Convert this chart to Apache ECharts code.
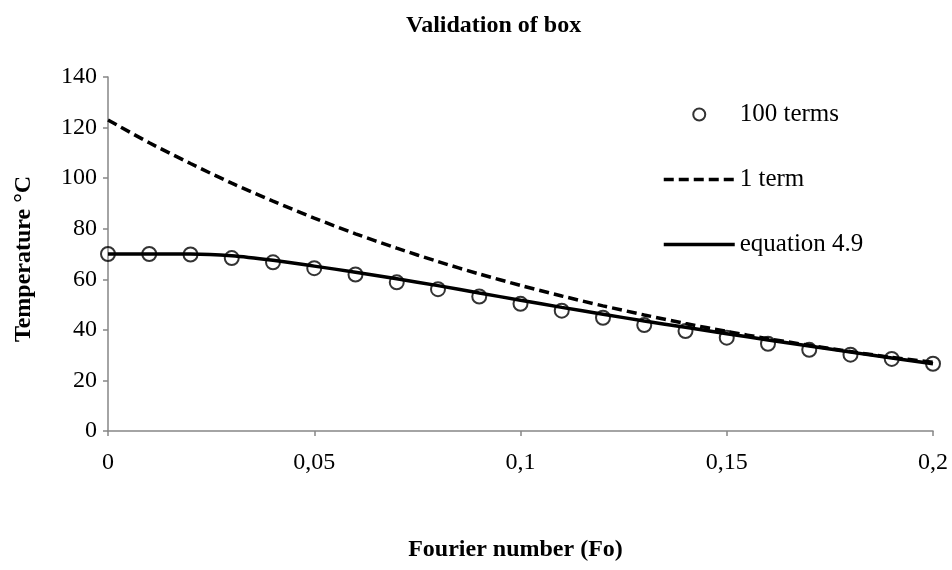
<!DOCTYPE html>
<html>
<head>
<meta charset="utf-8">
<script src="https://cdn.jsdelivr.net/npm/echarts@6/dist/echarts.min.js"></script>
<style>html,body{margin:0;padding:0;background:#fff}#c{width:952px;height:570px}</style>
</head>
<body>
<div id="c"></div>
<script>
// Fourier number values (x)
const fourier = [0, 0.01, 0.02, 0.03, 0.04, 0.05, 0.06, 0.07, 0.08, 0.09, 0.10,
                 0.11, 0.12, 0.13, 0.14, 0.15, 0.16, 0.17, 0.18, 0.19, 0.20];
// 100 terms (circles)
const terms100 = [70.0, 70.0, 69.8, 68.4, 66.7, 64.4, 61.9, 58.8, 56.1, 53.2, 50.3,
                  47.6, 44.8, 41.9, 39.5, 36.9, 34.5, 32.1, 30.2, 28.5, 26.6];
// 1 term (dashed)
const term1 = [123.0, 114.0, 105.8, 98.0, 90.9, 84.2, 78.0, 72.3, 67.0, 62.1, 57.6,
               53.4, 49.5, 45.9, 42.5, 39.4, 36.5, 33.9, 31.4, 29.1, 27.2];
// equation 4.9 (solid)
const eq49 = [70.0, 70.0, 70.0, 69.3, 67.5, 65.2, 62.8, 60.2, 57.5, 54.6, 51.7,
              48.9, 46.2, 43.5, 41.0, 38.5, 36.0, 33.6, 31.2, 28.9, 26.6];

const seriesNames = ['100 terms', '1 term', 'equation 4.9'];
const titleText = 'Validation of box';
const xTitle = 'Fourier number (Fo)';
const yTitle = 'Temperature °C';

const pair = (ys) => fourier.map((x, i) => [x, ys[i]]);
const FONT = 'Liberation Serif, Times New Roman, serif';
const hidden = {color: 'rgba(0,0,0,0)', borderColor: 'rgba(0,0,0,0)', borderWidth: 0, opacity: 0};

const chart = echarts.init(document.getElementById('c'), null, {renderer: 'canvas'});
chart.setOption({
  backgroundColor: '#fff',
  animation: false,
  title: {
    text: titleText,
    left: 401, top: 9,
    textStyle: {fontFamily: FONT, fontSize: 24, fontWeight: 'bold', color: '#000'}
  },
  grid: {left: 108, right: 19, top: 77, bottom: 139},
  legend: {
    orient: 'vertical',
    left: 657, top: 97,
    itemWidth: 71, itemHeight: 12, itemGap: 40,
    textStyle: {fontFamily: FONT, fontSize: 25, color: '#000', lineHeight: 25},
    data: [
      {name: seriesNames[0], icon: 'circle',
       itemStyle: {color: 'rgba(0,0,0,0)', borderColor: '#000', borderWidth: 2}},
      {name: seriesNames[1], itemStyle: hidden,
       lineStyle: {color: '#000', width: 3.5, type: [10, 5]}},
      {name: seriesNames[2], itemStyle: hidden,
       lineStyle: {color: '#000', width: 3.5, type: 'solid'}}
    ]
  },
  xAxis: {
    type: 'value', min: 0, max: 0.2, interval: 0.05,
    name: xTitle, nameLocation: 'middle', nameGap: 107,
    nameTextStyle: {fontFamily: FONT, fontSize: 24, fontWeight: 'bold', color: '#000', padding: [0,0,0,-10]},
    axisLine: {lineStyle: {color: '#868686', width: 1.5}},
    axisTick: {show: true, inside: false, length: 5, lineStyle: {color: '#868686', width: 1.5}},
    axisLabel: {fontFamily: FONT, fontSize: 24, color: '#000', margin: 20,
      formatter: (v) => String(+v.toFixed(2)).replace('.', ',')},
    splitLine: {show: false}
  },
  yAxis: {
    type: 'value', min: 0, max: 140, interval: 20,
    name: yTitle, nameLocation: 'middle', nameGap: 72,
    nameTextStyle: {fontFamily: FONT, fontSize: 24, fontWeight: 'bold', color: '#000', padding: [0,10,0,0]},
    axisLine: {show: true, lineStyle: {color: '#868686', width: 1.5}},
    axisTick: {show: true, inside: false, length: 5, lineStyle: {color: '#868686', width: 1.5}},
    axisLabel: {fontFamily: FONT, fontSize: 24, color: '#000', margin: 11},
    splitLine: {show: false}
  },
  series: [
    {
      name: seriesNames[0], type: 'scatter', data: pair(terms100),
      symbol: 'circle', symbolSize: 14, z: 5,
      itemStyle: {color: 'rgba(0,0,0,0)', borderColor: '#000', borderWidth: 2}
    },
    {
      name: seriesNames[1], type: 'line', data: pair(term1),
      showSymbol: false, symbol: 'none', smooth: 0.3,
      lineStyle: {color: '#000', width: 3.5, type: [10, 5]},
      itemStyle: {color: '#000'}
    },
    {
      name: seriesNames[2], type: 'line', data: pair(eq49),
      showSymbol: false, symbol: 'none', smooth: 0.3,
      lineStyle: {color: '#000', width: 3.5, type: 'solid'},
      itemStyle: {color: '#000'}
    }
  ]
});
</script>
</body>
</html>
